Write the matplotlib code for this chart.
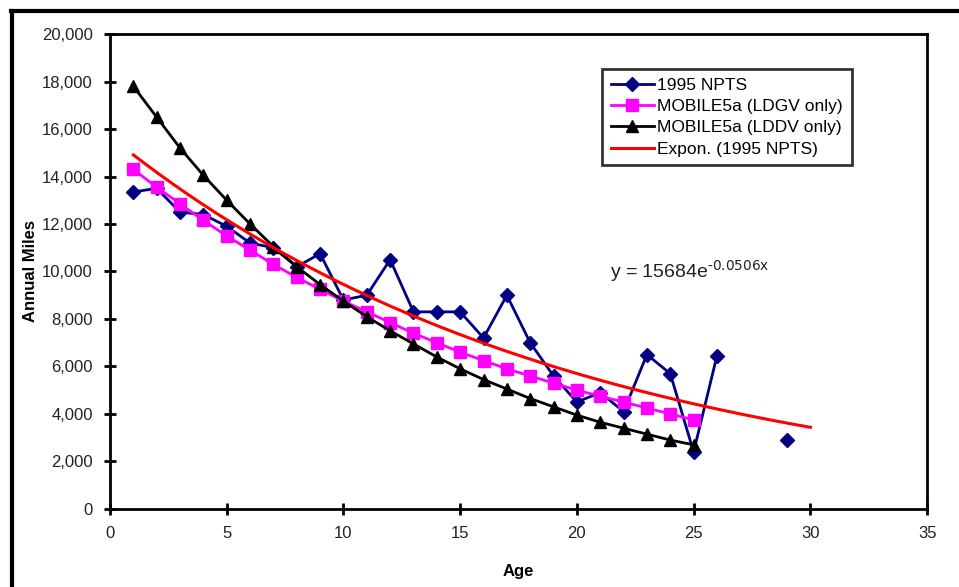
import numpy as np
import matplotlib.pyplot as plt
from matplotlib.lines import Line2D
from matplotlib.ticker import FuncFormatter

# values
age = list(range(1, 26))
npts_age = list(range(1, 27)) + [29]
npts = [13350, 13500, 12500, 12400, 11900, 11200, 11000, 10200, 10750, 8800,
        9000, 10500, 8300, 8300, 8300, 7200, 9000, 7000, 5600, 4500,
        4900, 4100, 6500, 5700, 2400, 6450, 2900]
ldgv = [14300, 13550, 12850, 12150, 11500, 10900, 10300, 9750, 9250, 8750,
        8300, 7850, 7400, 7000, 6600, 6250, 5900, 5600, 5300, 5000,
        4750, 4500, 4250, 4000, 3750]
lddv = [17800, 16500, 15200, 14050, 13000, 12000, 11050, 10200, 9450, 8750,
        8100, 7500, 6950, 6400, 5900, 5450, 5050, 4650, 4300, 3950,
        3650, 3400, 3150, 2900, 2700]
# trendline coefficients shown on the chart
fit_a = 15684
fit_k = -0.0506
fit_range = (1, 30)

plt.rcParams['font.family'] = ['Liberation Sans', 'DejaVu Sans']

fig = plt.figure(figsize=(9.59, 5.87), dpi=100)
ax = fig.add_axes([0.1147, 0.133, 0.852, 0.809])

# npts has a gap between age 26 and 29
ax.plot(npts_age[:26], npts[:26], color='#000080', lw=2, marker='D', ms=7,
        label='1995 NPTS')
ax.plot(npts_age[26:], npts[26:], color='#000080', lw=0, marker='D', ms=7)
ax.plot(age, ldgv, color='#FF00FF', lw=2, marker='s', ms=8.5,
        label='MOBILE5a (LDGV only)')
ax.plot(age, lddv, color='black', lw=2, marker='^', ms=8.5,
        label='MOBILE5a (LDDV only)')
xt = np.linspace(fit_range[0], fit_range[1], 200)
ax.plot(xt, fit_a * np.exp(fit_k * xt), color='#FF0000', lw=2.2,
        label='Expon. (1995 NPTS)')

eq = 'y = %de' % fit_a + r'$^{\text{%.4fx}}$' % fit_k
ax.text(21.4, 10000, eq, fontsize=14, va='center', ha='left',
        color='#222222')

ax.set_xlim(0, 35)
ax.set_ylim(0, 20000)
ax.set_xticks(range(0, 36, 5))
ax.set_yticks(range(0, 20001, 2000))
ax.yaxis.set_major_formatter(FuncFormatter(lambda v, p: '{:,.0f}'.format(v)))
ax.tick_params(direction='inout', length=9, width=2, labelsize=12,
               colors='black', labelcolor='#222222')
ax.tick_params(axis='y', pad=8)
ax.tick_params(axis='x', pad=8)
for s in ax.spines.values():
    s.set_linewidth(2)

ax.set_ylabel('Annual Miles', fontsize=12, fontweight='bold')
ax.yaxis.set_label_coords(-0.088, 0.5)
ax.set_xlabel('Age', fontsize=12, fontweight='bold')
ax.xaxis.set_label_coords(0.5, -0.116)

leg = ax.legend(loc='upper left', bbox_to_anchor=(0.602, 0.926), fontsize=12.5,
                frameon=True, fancybox=False, handlelength=2.5,
                handletextpad=0.2, labelspacing=0.35, borderpad=0.5,
                borderaxespad=0)
leg.get_frame().set_edgecolor('black')
leg.get_frame().set_linewidth(2)

# outer frame (top and left only, like the cropped original)
fig.add_artist(Line2D([0.011, 1.0], [0.982, 0.982], color='black', lw=3))
fig.add_artist(Line2D([0.012, 0.012], [0.0, 0.982], color='black', lw=3))

fig.savefig('out.png', dpi=100)
